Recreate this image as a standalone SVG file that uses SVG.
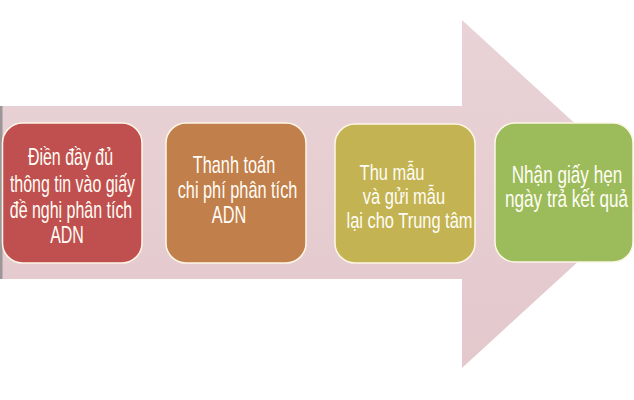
<svg xmlns="http://www.w3.org/2000/svg" width="634" height="400" viewBox="0 0 634 400">
<defs>
<linearGradient id="ag" x1="0" y1="0" x2="0" y2="1">
<stop offset="0" stop-color="#e9d3d6"/>
<stop offset="1" stop-color="#e3c8cc"/>
</linearGradient>
<style>
.box{stroke:#fdf6e6;stroke-width:1.5}
.t{font-family:"Liberation Sans",Arial,sans-serif;fill:#fffdf5;text-anchor:middle}
</style>
</defs>
<rect width="634" height="400" fill="#ffffff"/>
<g id="arrow">
<polygon points="0,106 462,106 462,20 652,194 462,368 462,279 0,279" fill="url(#ag)"/>
<rect x="0" y="106" width="2.5" height="173" fill="#9c9698"/>
</g>
<g id="connectors"></g>
<g id="node1">
<rect class="box" x="2.5" y="123" width="139.5" height="140" rx="20" fill="#c0504f"/>
<text class="t" font-size="24" transform="scale(0.665,1)"><tspan x="106" y="165">Điền đầy đủ</tspan><tspan x="109" y="192">thông tin vào giấy</tspan><tspan x="106.8" y="218">đề nghị phân tích</tspan><tspan x="100.8" y="243">ADN</tspan></text>
</g>
<g id="node2">
<rect class="box" x="166" y="123" width="140" height="140" rx="20" fill="#c17f4c"/>
<text class="t" font-size="24" transform="scale(0.68,1)"><tspan x="344.1" y="173">Thanh toán</tspan><tspan x="349.3" y="198">chi phí phân tích</tspan><tspan x="336.8" y="223">ADN</tspan></text>
</g>
<g id="node3">
<rect class="box" x="335" y="124" width="140" height="139" rx="20" fill="#c3b353"/>
<text class="t" font-size="22" transform="scale(0.747,1)"><tspan x="524.8" y="180">Thu mẫu</tspan><tspan x="540.8" y="204">và gửi mẫu</tspan><tspan x="548.2" y="228">lại cho Trung tâm</tspan></text>
</g>
<g id="node4">
<rect class="box" x="495" y="123" width="138" height="139" rx="20" fill="#9cbb5a"/>
<text class="t" font-size="24" transform="scale(0.715,1)"><tspan x="793" y="183">Nhận giấy hẹn</tspan><tspan x="792.3" y="207">ngày trả kết quả</tspan></text>
</g>
</svg>
